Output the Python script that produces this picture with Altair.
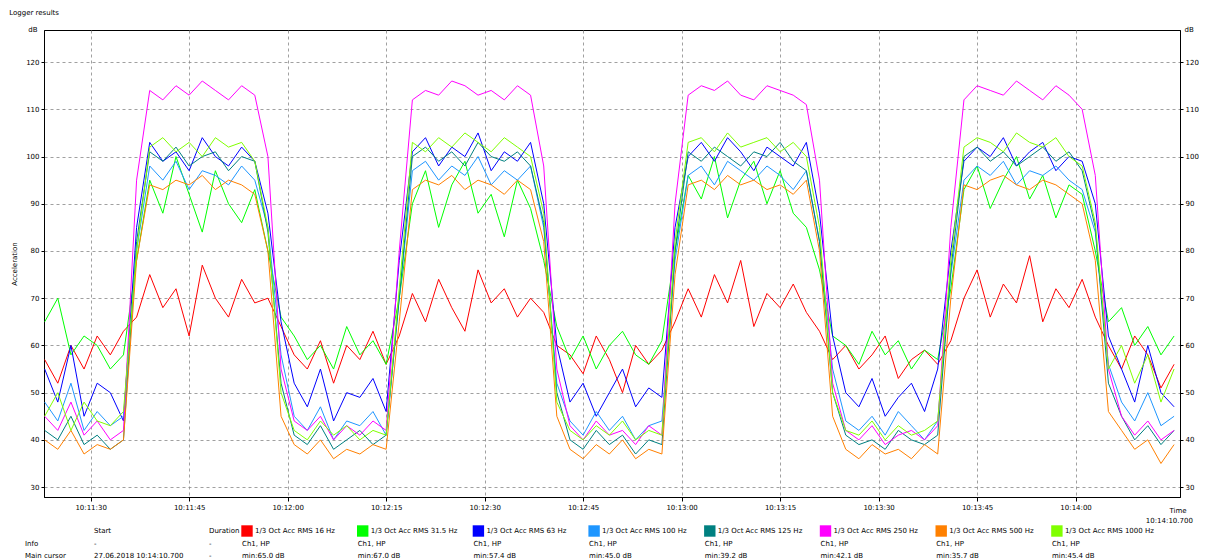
import pandas as pd
import altair as alt

# seconds relative to 10:11:30, sampled every 2 s
t_sec = list(range(-7, 166, 2))

red = [57,52,60,55,62,58,63, 66, 75,68,72,62,77,70,66,74,69, 70,64, 58,55,61,52,60,57,63,56, 62,
       71,65,74,68,63,76,69,72,66,70, 67,60, 58,54,62,57,50,60,56,59, 65,
       72,66,75,69,78,64,71,68,73,67, 63,57, 60,55,58,62,53,57,59,56, 61,
       70,76,66,73,69,79,65,72,68,74, 66,60, 55,62,58,51,56]
green = [65,70,58,62,60,55,58, 78, 95,88,100,92,84,97,90,86,93, 80,66, 62,57,60,55,64,58,61,56, 70,
         90,97,85,94,99,88,92,83,95,89, 78,64, 57,62,55,60,63,58,56,61, 80,
         96,91,100,87,95,99,90,97,88,85, 76,62, 60,56,63,58,61,55,59,57, 72,
         93,98,89,95,100,91,96,87,94,92, 80,65, 68,60,64,58,62]
blue = [55,48,60,45,52,50,44, 85, 103,99,101,97,104,100,98,102,99, 88,65, 52,47,55,44,50,49,53,46, 78,
        101,104,98,102,100,105,97,101,99,103, 90,60, 48,52,45,50,55,47,51,49, 85,
        100,103,99,104,101,97,102,100,98,103, 88,62, 50,47,53,45,49,52,46,55, 80,
        99,102,100,104,98,101,103,97,100,99, 90,62, 55,48,60,50,47]
lblue = [48,44,52,42,46,43,45, 80, 98,95,99,93,97,96,94,98,95, 85,58, 45,42,47,40,44,43,46,41, 70,
         97,99,95,98,96,100,94,97,95,98, 85,52, 44,41,46,42,45,40,43,44, 78,
         96,98,94,99,97,95,98,96,93,97, 82,55, 44,42,45,41,46,43,40,44, 75,
         95,98,96,99,94,97,96,98,95,93, 84,56, 48,44,50,43,45]
teal = [42,40,45,39,41,38,40, 82, 101,99,102,98,100,101,97,100,99, 84,52, 41,39,43,38,40,42,39,41, 70,
        100,102,99,101,98,103,100,99,101,98, 86,50, 40,38,42,39,41,37,40,39, 80,
        101,99,102,100,98,101,100,103,99,97, 82,50, 41,39,40,38,42,40,39,41, 76,
        100,102,99,101,98,100,102,99,101,97, 85,52, 45,40,43,39,42]
magenta = [45,42,48,41,44,40,42, 95, 114,112,115,113,116,114,112,115,113, 100,55, 44,42,45,40,43,41,44,42, 80,
           112,114,113,116,115,113,114,112,115,113, 98,55, 43,40,44,41,42,39,43,41, 90,
           113,115,114,116,113,112,115,114,113,111, 95,52, 42,40,43,39,41,42,40,43, 85,
           112,115,114,113,116,114,112,115,113,110, 96,55, 45,41,44,40,42]
orange = [40,38,42,37,39,38,40, 78, 94,93,95,94,96,93,95,94,92, 80,45, 39,37,40,36,38,37,39,38, 65,
          93,95,94,96,93,95,94,92,95,93, 82,45, 38,36,39,37,40,36,38,37, 75,
          94,95,93,96,94,95,93,94,92,95, 80,45, 38,36,39,37,38,36,39,37, 70,
          94,93,95,96,94,93,95,94,92,90, 78,46, 42,38,40,35,39]
lime = [45,50,42,48,44,43,46, 80, 102,104,101,103,100,104,102,103,99, 85,50, 42,40,44,41,43,40,42,41, 72,
        103,101,104,102,105,103,101,104,102,100, 88,48, 42,40,43,41,44,40,42,41, 82,
        103,104,101,105,102,103,104,101,103,100, 85,50, 42,41,44,40,43,41,42,44, 78,
        102,104,103,101,105,103,102,104,100,98, 86,55, 60,52,58,48,55]

names = ["1/3 Oct Acc RMS 16 Hz", "1/3 Oct Acc RMS 31.5 Hz", "1/3 Oct Acc RMS 63 Hz",
         "1/3 Oct Acc RMS 100 Hz", "1/3 Oct Acc RMS 125 Hz", "1/3 Oct Acc RMS 250 Hz",
         "1/3 Oct Acc RMS 500 Hz", "1/3 Oct Acc RMS 1000 Hz"]
colors = ["#ff0000", "#00ff00", "#0000ff", "#1e96ff", "#008080", "#ff00ff", "#ff8000", "#80ff00"]
series = [red, green, blue, lblue, teal, magenta, orange, lime]
mins = ["min:65.0 dB", "min:67.0 dB", "min:57.4 dB", "min:45.0 dB",
        "min:39.2 dB", "min:42.1 dB", "min:35.7 dB", "min:45.4 dB"]

rows = []
for k, (n, vals) in enumerate(zip(names, series)):
    for s, v in zip(t_sec, vals):
        rows.append({"t": s, "value": v, "series": n, "k": k})
df = pd.DataFrame(rows)

# tick positions (s from 10:11:30) and labels
x_ticks = [0, 15, 30, 45, 60, 75, 90, 105, 120, 135, 150]
x_labels = ["10:11:30", "10:11:45", "10:12:00", "10:12:15", "10:12:30", "10:12:45",
            "10:13:00", "10:13:15", "10:13:30", "10:13:45", "10:14:00"]
label_expr = "{" + ",".join(f"'{t}':'{l}'" for t, l in zip(x_ticks, x_labels)) + "}[datum.value]"

grid = dict(grid=True, gridDash=[3, 3], gridColor="#888888", gridOpacity=0.8)
y_vals = [30, 40, 50, 60, 70, 80, 90, 100, 110, 120]
y_scale = alt.Scale(domain=[27.9, 126.8], nice=False, zero=False)
x_scale = alt.Scale(domain=[-7.1, 165.9], nice=False, zero=False)
col_scale = alt.Scale(domain=names, range=colors)

lines = alt.Chart(df).mark_line(strokeWidth=1).encode(
    x=alt.X("t:Q", scale=x_scale,
            axis=alt.Axis(title=None, values=x_ticks, labelExpr=label_expr, labelFontSize=7,
                          tickSize=4, **grid)),
    y=alt.Y("value:Q", scale=y_scale,
            axis=alt.Axis(title="Acceleration", titleFontSize=7, titleFontWeight="normal",
                          values=y_vals, labelFontSize=7, titlePadding=8, tickSize=3, **grid)),
    color=alt.Color("series:N", scale=col_scale, legend=None),
    detail="k:O",
)

# invisible copy that carries the right-hand axis
right = alt.Chart(df).mark_line(strokeWidth=0, opacity=0).encode(
    x=alt.X("t:Q", scale=x_scale),
    y=alt.Y("value:Q", scale=y_scale,
            axis=alt.Axis(orient="right", title=None, values=y_vals, labelFontSize=7,
                          tickSize=3, grid=False)),
    detail="k:O",
)

# annotation texts placed in data units
notes = pd.DataFrame({
    "txt": ["Logger results", "dB", "dB", "Time", "10:14:10.700"],
    "t": [-12.4, -9.5, 166.6, 164.3, 160.7],
    "v": [130.4, 126.9, 126.9, 25.0, 22.8],
})
note_marks = alt.Chart(notes).mark_text(fontSize=7, align="left").encode(
    x=alt.X("t:Q", scale=x_scale), y=alt.Y("v:Q", scale=y_scale, axis=None),
    text="txt:N",
)

main = alt.layer(lines, right, note_marks).resolve_scale(y="independent").properties(
    width=1136, height=467)

# bottom info table
tab = []
for lbl, px in zip(["Start", "Duration"], [50, 165]):
    tab.append({"txt": lbl, "px": px, "row": 0})
for r, lbl in [(1, "Info"), (2, "Main cursor")]:
    tab.append({"txt": lbl, "px": -19, "row": r})
tab.append({"txt": "-", "px": 50, "row": 1})
tab.append({"txt": "27.06.2018 10:14:10.700", "px": 50, "row": 2})
tab.append({"txt": "-", "px": 165, "row": 1})
tab.append({"txt": "-", "px": 165, "row": 2})
sq = []
for i, n in enumerate(names):
    px = 198 + i * 115.7
    tab.append({"txt": n, "px": px + 13, "row": 0})
    tab.append({"txt": "Ch1, HP", "px": px, "row": 1})
    tab.append({"txt": mins[i], "px": px, "row": 2})
    sq.append({"px": px + 5, "row": 0, "series": n})
tab = pd.DataFrame(tab)
sq = pd.DataFrame(sq)
tx = alt.Scale(domain=[0, 1136], nice=False)
ty = alt.Scale(domain=[-0.16, 2.56], nice=False, reverse=True)
table_text = alt.Chart(tab).mark_text(fontSize=7, align="left").encode(
    x=alt.X("px:Q", scale=tx, axis=None), y=alt.Y("row:Q", scale=ty, axis=None), text="txt:N")
table_sq = alt.Chart(sq).mark_square(size=130, opacity=1).encode(
    x=alt.X("px:Q", scale=tx, axis=None), y=alt.Y("row:Q", scale=ty, axis=None),
    color=alt.Color("series:N", scale=col_scale, legend=None))
table = alt.layer(table_sq, table_text).properties(
    width=1136, height=34, view=alt.ViewBackground(strokeOpacity=0))

chart = alt.vconcat(main, table, spacing=0).properties(
    padding={"left": 0, "top": 0, "right": 0, "bottom": 0}
).configure_view(
    stroke="#000000", strokeWidth=1
).configure_axis(
    labelFont="DejaVu Sans", titleFont="DejaVu Sans", domainColor="#000000", tickColor="#000000"
).configure_text(font="DejaVu Sans")

chart.save("out.html", embed_options={"renderer": "svg", "actions": False})
